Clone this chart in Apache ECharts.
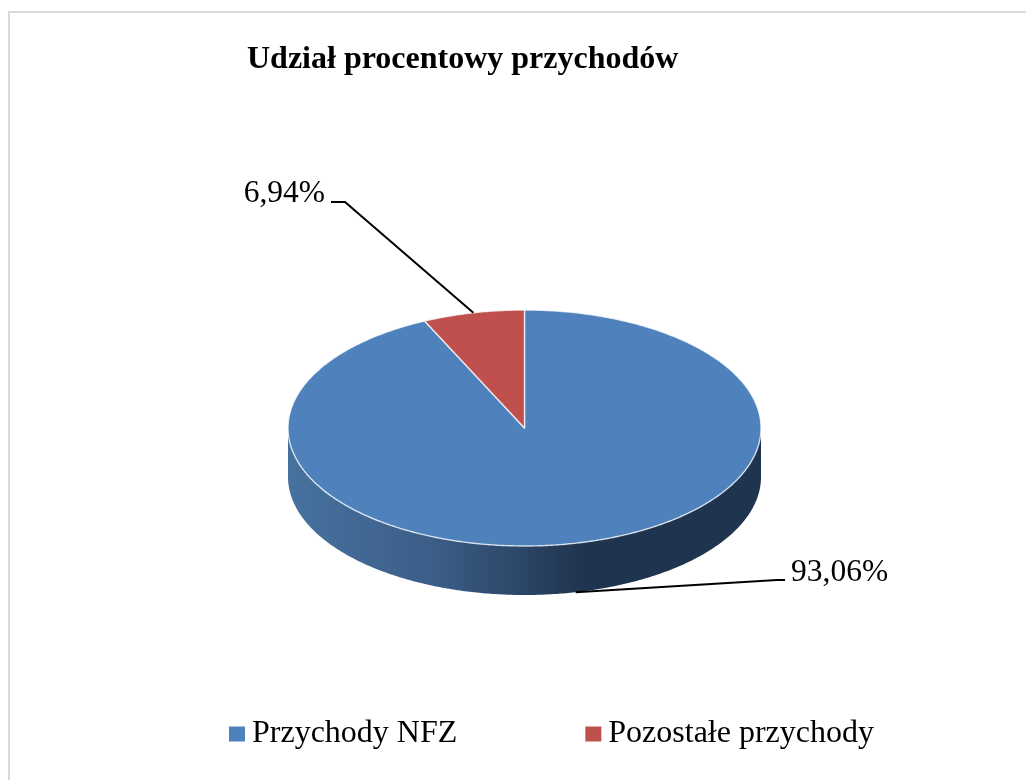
<!DOCTYPE html>
<html>
<head>
<meta charset="utf-8">
<style>html,body{margin:0;padding:0;background:#fff}#c{width:1026px;height:780px}</style>
<script src="https://cdn.jsdelivr.net/npm/echarts@6/dist/echarts.min.js"></script>
</head>
<body>
<div id="c"></div>
<script>
const titleText = 'Udział procentowy przychodów';
const categories = ['Przychody NFZ', 'Pozostałe przychody'];
const shares = [93.06, 6.94];
const colors = ['#4f81bd', '#c0504d'];

const FONT = '"Liberation Serif", "Times New Roman", serif';
const CX = 524.5, CY = 428, RX = 236.5, RY = 118, DEPTH = 49;
const TOTAL = shares.reduce((a, b) => a + b, 0);
const labelLayouts = [
  { elbow: [777, 580], end: [785, 580], text: [791, 573], align: 'left' },
  { elbow: [345, 202], end: [331, 202], text: [325, 194], align: 'right' }
];

const rimTop = a => [CX + RX * Math.sin(a), CY - RY * Math.cos(a)];
const rimLow = a => { const p = rimTop(a); return [p[0], p[1] + DEPTH]; };
function arc(a0, a1, fn) {
  const n = Math.max(2, Math.ceil(Math.abs(a1 - a0) / 0.01)), pts = [];
  for (let i = 0; i <= n; i++) pts.push(fn(a0 + (a1 - a0) * i / n));
  return pts;
}

function makeRender(idx) {
  return function (params, api) {
    const v = api.value(0);
    let before = 0;
    for (let i = 0; i < idx; i++) before += shares[i];
    const a0 = before / TOTAL * 2 * Math.PI;
    const a1 = a0 + v / TOTAL * 2 * Math.PI;
    const mid = (a0 + a1) / 2;
    const children = [];
    const w0 = Math.max(a0, Math.PI / 2), w1 = Math.min(a1, 1.5 * Math.PI);
    if (w1 > w0) {
      children.push({
        type: 'polygon',
        shape: { points: arc(w0, w1, rimTop).concat(arc(w1, w0, rimLow)) },
        style: {
          fill: new echarts.graphic.LinearGradient(CX - RX, 0, CX + RX, 0, [
            { offset: 0, color: '#46729f' },
            { offset: 0.3, color: '#3c5e88' },
            { offset: 0.5, color: '#2b4566' },
            { offset: 0.62, color: '#1f344e' },
            { offset: 1, color: '#1f344e' }
          ], true)
        }
      });
    }
    children.push({
      type: 'polygon',
      shape: { points: [[CX, CY]].concat(arc(a0, a1, rimTop)) },
      style: { fill: colors[idx], stroke: 'rgba(255,255,255,0.75)', lineWidth: 1.4, lineJoin: 'round' }
    });
    const L = labelLayouts[idx];
    const onFront = Math.cos(mid) < 0;
    const anchor = onFront ? rimLow(mid) : rimTop(mid);
    children.push({
      type: 'polyline',
      shape: { points: [anchor, L.elbow, L.end] },
      style: { fill: null, stroke: '#000', lineWidth: 2 }
    });
    children.push({
      type: 'text',
      x: L.text[0], y: L.text[1],
      style: {
        text: v.toFixed(2).replace('.', ',') + '%',
        fill: '#000', font: '31.5px ' + FONT,
        align: L.align, verticalAlign: 'middle'
      }
    });
    return { type: 'group', children };
  };
}

const chart = echarts.init(document.getElementById('c'), null, { renderer: 'canvas' });
chart.setOption({
  animation: false,
  backgroundColor: '#fff',
  title: {
    text: titleText, left: 242, top: 39,
    textStyle: { fontFamily: FONT, fontWeight: 'bold', fontSize: 32, color: '#000' }
  },
  legend: {
    data: categories, left: 224, top: 713, icon: 'rect', orient: 'horizontal',
    itemWidth: 16, itemHeight: 15, itemGap: 128, selectedMode: false,
    textStyle: { fontFamily: FONT, fontSize: 32, color: '#000', padding: [0, 0, 0, 2] }
  },
  graphic: [{
    type: 'rect', silent: true, z: -1,
    shape: { x: 9, y: 12, width: 1100, height: 850 },
    style: { fill: 'none', stroke: '#d9d9d9', lineWidth: 2 }
  }],
  series: categories.map((name, i) => ({
    type: 'custom', name, coordinateSystem: 'none',
    itemStyle: { color: colors[i] },
    renderItem: makeRender(i),
    data: [shares[i]]
  }))
});
</script>
</body>
</html>
